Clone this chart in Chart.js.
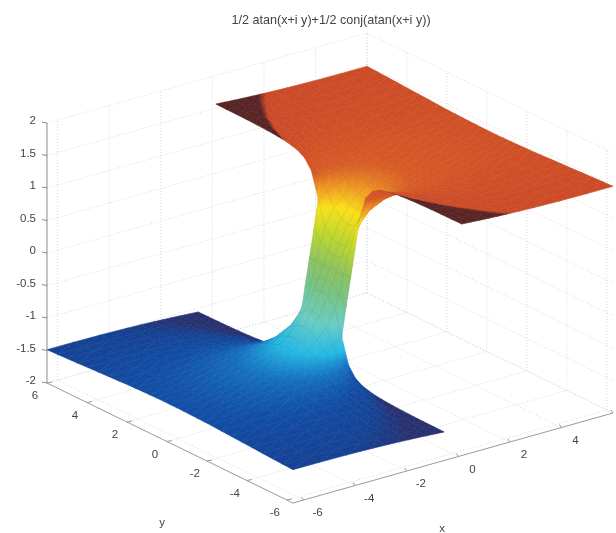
<!DOCTYPE html>
<html>
<head>
<meta charset="utf-8">
<title>atan surface</title>
<script src="https://cdn.jsdelivr.net/npm/chart.js@4"></script>
<style>
html, body { margin: 0; padding: 0; background: #fff; }
canvas { display: block; filter: blur(0.7px); }
</style>
</head>
<body>
<canvas id="surfaceChart" width="616" height="533"></canvas>
<script>
const titleText = '1/2 atan(x+i y)+1/2 conj(atan(x+i y))';
const xTicks = [-6, -4, -2, 0, 2, 4, 6];
const yTicks = [-6, -4, -2, 0, 2, 4, 6];
const zTicks = [-2, -1.5, -1, -0.5, 0, 0.5, 1, 1.5, 2];

// mesh nodes for the x>=0, y>=0 quarter, the surface is the same in the other three
const xHalf = [0, 0.17, 0.33, 0.67, 1, 1.33, 1.67, 2, 2.5, 3, 4, 5, 6];
const yHalf = [0, 0.33, 0.67, 1, 1.33, 1.67, 2, 2.5, 3, 3.5, 4, 4.5, 5, 5.5, 6];
// heights, one row per yHalf, null = gap between the two sheets
const zQuarter = [
  [0, 0.165, 0.322, 0.590, 0.785, 0.926, 1.031, 1.107, 1.190, 1.249, 1.326, 1.373, 1.406],
  [0, 0.184, 0.354, 0.624, 0.813, 0.945, 1.043, 1.116, 1.195, 1.252, 1.327, 1.374, 1.406],
  [0, 0.281, 0.491, 0.744, 0.895, 1.000, 1.079, 1.141, 1.211, 1.262, 1.332, 1.377, 1.408],
  [0, 0.430, 0.868, 0.946, 1.017, 1.079, 1.133, 1.178, 1.233, 1.277, 1.339, 1.380, 1.410],
  [null, null, 1.249, 1.156, 1.149, 1.168, 1.194, 1.222, 1.262, 1.295, 1.348, 1.386, 1.413],
  [null, null, 1.401, 1.301, 1.259, 1.249, 1.255, 1.268, 1.292, 1.317, 1.359, 1.392, 1.417],
  [null, null, 1.465, 1.386, 1.339, 1.316, 1.309, 1.311, 1.323, 1.339, 1.372, 1.399, 1.421],
  [null, null, 1.509, 1.456, 1.416, 1.390, 1.374, 1.367, 1.366, 1.372, 1.391, 1.411, 1.429],
  [null, null, 1.530, 1.492, 1.461, 1.438, 1.421, 1.410, 1.402, 1.401, 1.410, 1.424, 1.438],
  [null, null, 1.542, 1.514, 1.490, 1.470, 1.454, 1.442, 1.432, 1.427, 1.428, 1.436, 1.446],
  [null, null, 1.549, 1.528, 1.509, 1.492, 1.478, 1.467, 1.455, 1.448, 1.444, 1.448, 1.455],
  [null, null, 1.554, 1.537, 1.521, 1.508, 1.496, 1.486, 1.474, 1.466, 1.459, 1.460, 1.464],
  [null, null, 1.557, 1.543, 1.531, 1.520, 1.509, 1.500, 1.489, 1.481, 1.472, 1.470, 1.472],
  [null, null, 1.559, 1.548, 1.538, 1.528, 1.519, 1.511, 1.501, 1.493, 1.483, 1.480, 1.480],
  [null, null, 1.561, 1.552, 1.543, 1.534, 1.527, 1.520, 1.510, 1.503, 1.493, 1.488, 1.487]
];

// height -> colour, a washed out jet
const colorStops = [
  [-1.53, [40, 48, 112]],
  [-1.49, [22, 66, 148]],
  [-1.40, [18, 78, 165]],
  [-1.25, [22, 112, 190]],
  [-1.05, [35, 185, 230]],
  [-0.70, [105, 205, 195]],
  [-0.30, [120, 195, 130]],
  [0.00, [140, 195, 95]],
  [0.40, [190, 215, 45]],
  [0.75, [250, 225, 25]],
  [1.00, [240, 150, 35]],
  [1.20, [215, 92, 38]],
  [1.515, [203, 74, 40]],
  [1.522, [88, 36, 36]]
];

function colorFor(z) {
  let c = colorStops[colorStops.length - 1][1];
  if (z <= colorStops[0][0]) c = colorStops[0][1];
  for (let i = 1; i < colorStops.length; i++) {
    const a = colorStops[i - 1], b = colorStops[i];
    if (z >= a[0] && z < b[0]) {
      const t = (z - a[0]) / (b[0] - a[0]);
      c = a[1].map((v, k) => v + (b[1][k] - v) * t);
      break;
    }
  }
  return 'rgb(' + c.map(v => Math.round(v)).join(',') + ')';
}

// fixed matlab-like view of the box
function project(x, y, z) {
  return {
    x: 330 + 26.67 * x - 20.5 * y,
    y: 268 - 7.5 * x - 10 * y - 65 * z
  };
}

// the tick marks sit a little inside the box corners
const tickX = x => 0.967 * x + 0.2;
const tickY = y => 0.975 * y + 0.15;

const canvas = document.getElementById('surfaceChart');
const ctx2d = canvas.getContext('2d');

const xNodes = xHalf.slice(1).reverse().map(v => -v).concat(xHalf);
const yNodes = yHalf.slice(1).reverse().map(v => -v).concat(yHalf);

function heightAt(i, j) {
  const row = zQuarter[Math.abs(j - (yHalf.length - 1))];
  const value = row[Math.abs(i - (xHalf.length - 1))];
  if (value === null) return null;
  return i < xHalf.length - 1 ? -value : value;
}

// smooth shading: on a triangle z is linear on screen, so a linear gradient is exact
// the scales below map 1:1 to canvas pixels
function triangleFill(pts, zs) {
  const [p0, p1, p2] = pts;
  const det = (p1.x - p0.x) * (p2.y - p0.y) - (p2.x - p0.x) * (p1.y - p0.y);
  const lo = Math.min(...zs), hi = Math.max(...zs);
  if (Math.abs(det) < 0.01 || hi - lo < 0.0001) return colorFor((zs[0] + zs[1] + zs[2]) / 3);
  const a = ((zs[1] - zs[0]) * (p2.y - p0.y) - (zs[2] - zs[0]) * (p1.y - p0.y)) / det;
  const b = ((zs[2] - zs[0]) * (p1.x - p0.x) - (zs[1] - zs[0]) * (p2.x - p0.x)) / det;
  const g2 = a * a + b * b;
  const gx = a / g2, gy = b / g2;
  const grad = ctx2d.createLinearGradient(
    p0.x + gx * (lo - zs[0]), p0.y + gy * (lo - zs[0]),
    p0.x + gx * (hi - zs[0]), p0.y + gy * (hi - zs[0])
  );
  grad.addColorStop(0, colorFor(lo));
  colorStops.forEach(s => {
    if (s[0] > lo && s[0] < hi) grad.addColorStop((s[0] - lo) / (hi - lo), colorFor(s[0]));
  });
  grad.addColorStop(1, colorFor(hi));
  return grad;
}

const datasets = [];

function addLine(points, color, width, dash) {
  datasets.push({
    data: points,
    borderColor: color,
    borderWidth: width,
    borderDash: dash || [],
    pointRadius: 0,
    fill: false,
    clip: false
  });
}

function addTriangle(pts, zs) {
  const paint = triangleFill(pts, zs);
  datasets.push({
    data: [pts[0], pts[1], pts[2], pts[0]],
    backgroundColor: paint,
    borderColor: paint,
    borderWidth: 0.6,
    pointRadius: 0,
    fill: 'shape',
    clip: false
  });
}

// axis lines and tick marks go first so they end up on top
const corner = project(-6, -6, -2);
addLine([project(-6, 6, -2), corner], '#9a9a9a', 1);
addLine([corner, project(6, -6, -2)], '#9a9a9a', 1);
addLine([project(-6, 6, -2), project(-6, 6, 2)], '#8a8a8a', 1);
xTicks.forEach(v => {
  const p = project(tickX(v), -6, -2);
  addLine([p, { x: p.x - 2, y: p.y - 3 }], '#9a9a9a', 1);
});
yTicks.forEach(v => {
  const p = project(-6, tickY(v), -2);
  addLine([p, { x: p.x + 5, y: p.y - 1 }], '#9a9a9a', 1);
});
zTicks.forEach(v => {
  const p = project(-6, 6, v);
  addLine([p, { x: p.x - 5, y: p.y - 1 }], '#8a8a8a', 1);
});

// surface cells, nearest first because chart.js paints the first dataset last
for (let i = 0; i < xNodes.length - 1; i++) {
  for (let j = 0; j < yNodes.length - 1; j++) {
    const zs = [heightAt(i, j), heightAt(i + 1, j), heightAt(i + 1, j + 1), heightAt(i, j + 1)];
    if (zs.includes(null)) continue;
    const pts = [
      project(xNodes[i], yNodes[j], zs[0]),
      project(xNodes[i + 1], yNodes[j], zs[1]),
      project(xNodes[i + 1], yNodes[j + 1], zs[2]),
      project(xNodes[i], yNodes[j + 1], zs[3])
    ];
    // faint mesh where the sheet is steep
    const mean = (zs[0] + zs[1] + zs[2] + zs[3]) / 4;
    if (Math.abs(mean) < 1.15) {
      addLine([pts[0], pts[1], pts[2], pts[3], pts[0]], 'rgba(40,40,40,0.13)', 0.6);
    }
    addTriangle([pts[0], pts[1], pts[2]], [zs[0], zs[1], zs[2]]);
    addTriangle([pts[0], pts[2], pts[3]], [zs[0], zs[2], zs[3]]);
  }
}

// dotted grid on the floor and the two back walls
const gridColor = '#d8d8d8';
const gridDash = [1, 2];
xTicks.forEach(v => {
  addLine([project(tickX(v), -6, -2), project(tickX(v), 6, -2)], gridColor, 1, gridDash);
  addLine([project(tickX(v), 6, -2), project(tickX(v), 6, 2)], gridColor, 1, gridDash);
});
yTicks.forEach(v => {
  addLine([project(-6, tickY(v), -2), project(6, tickY(v), -2)], gridColor, 1, gridDash);
  addLine([project(6, tickY(v), -2), project(6, tickY(v), 2)], gridColor, 1, gridDash);
});
zTicks.forEach(v => {
  addLine([project(-6, 6, v), project(6, 6, v)], gridColor, 1, gridDash);
  addLine([project(6, 6, v), project(6, -6, v)], gridColor, 1, gridDash);
});

// tick labels and axis names follow the projected axes
const axisLabels = {
  id: 'axisLabels',
  afterDraw(chart) {
    const ctx = chart.ctx;
    const sx = chart.scales.x, sy = chart.scales.y;
    ctx.save();
    ctx.fillStyle = '#444';
    ctx.font = '11.5px "Liberation Sans"';
    ctx.textBaseline = 'middle';
    ctx.textAlign = 'center';
    xTicks.forEach(v => {
      const p = project(tickX(v), -6, -2);
      ctx.fillText(String(v), sx.getPixelForValue(p.x) + 14, sy.getPixelForValue(p.y) + 13);
    });
    yTicks.forEach(v => {
      const p = project(-6, tickY(v), -2);
      ctx.fillText(String(v), sx.getPixelForValue(p.x) - 12, sy.getPixelForValue(p.y) + 13);
    });
    ctx.fillText('x', 442, 529);
    ctx.fillText('y', 162, 523);
    ctx.textAlign = 'right';
    zTicks.forEach(v => {
      const p = project(-6, 6, v);
      ctx.fillText(String(v), sx.getPixelForValue(p.x) - 11, sy.getPixelForValue(p.y) - 2);
    });
    ctx.restore();
  }
};

new Chart(canvas, {
  type: 'line',
  data: { datasets: datasets },
  plugins: [axisLabels],
  options: {
    responsive: false,
    animation: false,
    events: [],
    layout: { padding: { left: 46 } },
    elements: { line: { tension: 0 } },
    scales: {
      x: { type: 'linear', display: false, min: 46, max: 616 },
      y: { type: 'linear', display: false, min: 30, max: 533, reverse: true }
    },
    plugins: {
      legend: { display: false },
      tooltip: { enabled: false },
      title: {
        display: true,
        text: titleText,
        color: '#444',
        font: { family: '"Liberation Sans"', size: 12.6, weight: 'normal', lineHeight: 1.2 },
        padding: { top: 12.5, bottom: 2.4 }
      }
    }
  }
});
</script>
</body>
</html>
